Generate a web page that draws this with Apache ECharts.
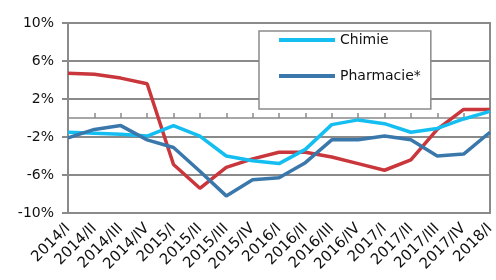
<!DOCTYPE html>
<html>
<head>
<meta charset="utf-8">
<script src="https://cdn.jsdelivr.net/npm/echarts@6/dist/echarts.min.js"></script>
<style>html,body{margin:0;padding:0;background:#fff;}#c{width:496px;height:280px;}</style>
</head>
<body>
<div id="c"></div>
<script>
const categories = ['2014/I','2014/II','2014/III','2014/IV','2015/I','2015/II','2015/III','2015/IV','2016/I','2016/II','2016/III','2016/IV','2017/I','2017/II','2017/III','2017/IV','2018/I'];
const chimie    = [-1.5,-1.6,-1.7,-1.9,-0.8,-1.9,-4.0,-4.5,-4.8,-3.3,-0.7,-0.2,-0.6,-1.5,-1.1,-0.1,0.7];
const pharmacie = [-2.1,-1.2,-0.8,-2.3,-3.1,-5.6,-8.2,-6.5,-6.3,-4.7,-2.3,-2.3,-1.9,-2.3,-4.0,-3.8,-1.5];
const autre     = [4.7,4.6,4.2,3.6,-4.9,-7.4,-5.2,-4.3,-3.6,-3.6,-4.1,-4.8,-5.5,-4.4,-1.2,0.9,0.9];
const yMin = -10, yMax = 10, yStep = 4;

const chart = echarts.init(document.getElementById('c'), null, {renderer:'canvas'});
const gridCol = '#8a8a8a';
const font = 'DejaVu Sans';
chart.setOption({
  animation:false,
  textStyle:{fontFamily:font},
  grid:{left:68,right:6,top:23,bottom:67,outerBoundsMode:'none',show:true,borderColor:gridCol,borderWidth:2,backgroundColor:'transparent'},
  legend:{
    show:true, orient:'vertical', left:259, top:31, width:231, height:76,
    data:['Chimie','Pharmacie*'],
    backgroundColor:'#fff', borderColor:'#8a8a8a', borderWidth:1.5,
    padding:[2,10,26,20], itemGap:22, itemWidth:56, itemHeight:4,
    icon:'rect',
    textStyle:{fontFamily:font,fontSize:14,color:'#111'}
  },
  xAxis:[{
    type:'category', data:categories, boundaryGap:false, position:'bottom',
    axisLine:{show:false,onZero:false}, axisTick:{show:false},
    axisLabel:{rotate:45,fontSize:15,color:'#111',margin:13,interval:0,fontFamily:font},
    splitLine:{show:false}
  },{
    type:'category', data:categories, boundaryGap:false, position:'bottom',
    axisLine:{show:true,onZero:true,lineStyle:{color:gridCol,width:1.5}},
    axisTick:{show:true,inside:true,length:5,interval:0,lineStyle:{color:gridCol,width:1.5}},
    axisLabel:{show:false}
  }],
  yAxis:[{
    type:'value', min:yMin, max:yMax, interval:yStep, position:'left',
    axisLine:{show:true,lineStyle:{color:gridCol,width:2}},
    axisTick:{show:true,length:6,lineStyle:{color:gridCol,width:2}},
    axisLabel:{fontSize:14,color:'#111',margin:14,fontFamily:font,formatter:'{value}%'},
    splitLine:{show:true,lineStyle:{color:gridCol,width:2}}
  }],
  series:[
    {name:'Chimie',type:'line',data:chimie,symbol:'none',lineStyle:{width:3.5,color:'#14BEF0'},itemStyle:{color:'#14BEF0'},z:3},
    {name:'Pharmacie*',type:'line',data:pharmacie,symbol:'none',lineStyle:{width:3.5,color:'#3A78AC'},itemStyle:{color:'#3A78AC'},z:4},
    {name:'Autre',type:'line',data:autre,symbol:'none',lineStyle:{width:3.5,color:'#C9363B'},itemStyle:{color:'#C9363B'},z:2}
  ]
});
</script>
</body>
</html>
